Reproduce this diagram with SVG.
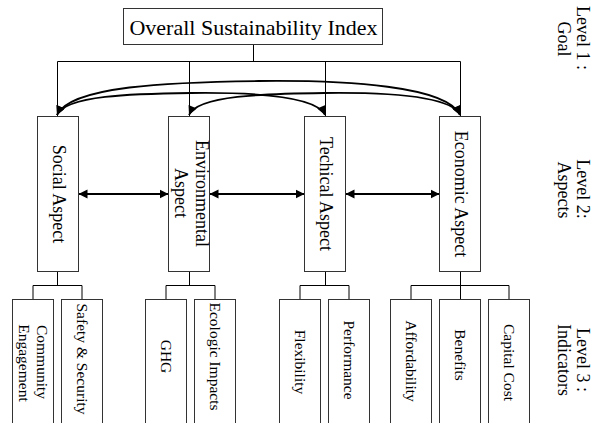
<svg xmlns="http://www.w3.org/2000/svg" width="595" height="423" viewBox="0 0 595 423">
<style>
.box{fill:#fff;stroke:#333;stroke-width:1}
.t{font-family:"Liberation Serif","Times New Roman",serif;fill:#000;text-anchor:middle}
.asp{font-size:18px}
.ind{font-size:15.5px}
.lvl{font-size:18px}
.tree{fill:none;stroke:#000;stroke-width:1}
.link{fill:none;stroke:#000;stroke-width:1.8}
</style>
<defs>
<marker id="ah" viewBox="0 0 10 10" refX="10" refY="5" markerWidth="9" markerHeight="10" markerUnits="userSpaceOnUse" orient="auto-start-reverse"><path d="M0,0 L10,5 L0,10 z" fill="#000"/></marker>
<marker id="ahc" viewBox="0 0 10 10" refX="10" refY="5" markerWidth="13" markerHeight="9" markerUnits="userSpaceOnUse" orient="auto-start-reverse"><path d="M0,0 L10,5 L0,10 z" fill="#000"/></marker>
</defs>

<g id="connectors">
<path class="tree" d="M253.5,44.5 V61.5 M57.5,61.5 H460.5 M57.5,61.5 V116 M189.5,61.5 V116 M325.5,61.5 V116 M460.5,61.5 V116"/>
<path class="link" marker-start="url(#ahc)" marker-end="url(#ahc)" d="M57,115 C70,86 170,82 258.5,81 S447,86 460,115"/>
<path class="link" marker-start="url(#ahc)" marker-end="url(#ahc)" d="M57,115 C65.7,95.5 132,93.7 191,93 S316.3,95.5 325,115"/>
<path class="link" marker-start="url(#ahc)" marker-end="url(#ahc)" d="M189,115 C197.7,95.5 264,93.7 324.5,93 S451.3,95.5 460,115"/>
<path class="link" marker-start="url(#ah)" marker-end="url(#ah)" d="M78.5,194 H168.5"/>
<path class="link" marker-start="url(#ah)" marker-end="url(#ah)" d="M209.5,194 H304.5"/>
<path class="link" marker-start="url(#ah)" marker-end="url(#ah)" d="M345.5,194 H439.5"/>
<path class="tree" d="M57.5,271.5 V285.5 M33,285.5 H82 M33,285.5 V299.5 M82,285.5 V299.5"/>
<path class="tree" d="M189.5,271.5 V285.5 M166,285.5 H215 M166,285.5 V299.5 M215,285.5 V299.5"/>
<path class="tree" d="M325.5,271.5 V285.5 M300,285.5 H349 M300,285.5 V299.5 M349,285.5 V299.5"/>
<path class="tree" d="M460.5,271.5 V285.5 M411,285.5 H509 M411,285.5 V299.5 M460.5,285.5 V299.5 M509,285.5 V299.5"/>
</g>

<g id="goal">
<rect class="box" x="123.5" y="8.5" width="259" height="36"/>
<text class="t" x="253.5" y="35" font-size="22">Overall Sustainability Index</text>
</g>

<g id="social">
<rect class="box" x="37.5" y="116.5" width="41" height="155"/>
<text class="t asp" transform="translate(53,194) rotate(90)">Social Aspect</text>
</g>
<g id="environmental">
<rect class="box" x="168.5" y="116.5" width="41" height="155"/>
<text class="t asp" transform="translate(195.5,193.5) rotate(90)">Environmental</text>
<text class="t asp" transform="translate(174.5,193) rotate(90)">Aspect</text>
</g>
<g id="technical">
<rect class="box" x="304.5" y="116.5" width="41" height="155"/>
<text class="t asp" transform="translate(320,194) rotate(90)">Techical Aspect</text>
</g>
<g id="economic">
<rect class="box" x="439.5" y="116.5" width="41" height="155"/>
<text class="t asp" transform="translate(454.5,194) rotate(90)">Economic Aspect</text>
</g>

<g id="community">
<rect class="box" x="12.5" y="299.5" width="41" height="130"/>
<text class="t ind" transform="translate(37,362) rotate(90)">Community</text>
<text class="t ind" transform="translate(18.5,363) rotate(90)">Engagement</text>
</g>
<g id="safety">
<rect class="box" x="61.5" y="299.5" width="41" height="130"/>
<text class="t ind" transform="translate(76.5,359) rotate(90)">Safety &amp; Security</text>
</g>
<g id="ghg">
<rect class="box" x="145.5" y="299.5" width="41" height="130"/>
<text class="t ind" transform="translate(160.5,356.5) rotate(90)">GHG</text>
</g>
<g id="ecologic">
<rect class="box" x="194.5" y="299.5" width="41" height="130"/>
<text class="t ind" transform="translate(209.5,356.5) rotate(90)">Ecologic Impacts</text>
</g>
<g id="flexibility">
<rect class="box" x="279.5" y="299.5" width="41" height="130"/>
<text class="t ind" transform="translate(294.5,362) rotate(90)">Flexibility</text>
</g>
<g id="performance">
<rect class="box" x="328.5" y="299.5" width="41" height="130"/>
<text class="t ind" transform="translate(343.5,360) rotate(90)">Performance</text>
</g>
<g id="affordability">
<rect class="box" x="390.5" y="299.5" width="41" height="130"/>
<text class="t ind" transform="translate(405.5,361) rotate(90)">Affordability</text>
</g>
<g id="benefits">
<rect class="box" x="439.5" y="299.5" width="41" height="130"/>
<text class="t ind" transform="translate(454.5,355) rotate(90)">Benefits</text>
</g>
<g id="capital">
<rect class="box" x="488.5" y="299.5" width="41" height="130"/>
<text class="t ind" transform="translate(503.5,362.5) rotate(90)">Capital Cost</text>
</g>

<g id="levels">
<text class="t lvl" transform="translate(577,38) rotate(90)">Level 1 :</text>
<text class="t lvl" transform="translate(558,39) rotate(90)">Goal</text>
<text class="t lvl" transform="translate(577,189) rotate(90)">Level 2:</text>
<text class="t lvl" transform="translate(558,190) rotate(90)">Aspects</text>
<text class="t lvl" transform="translate(577,360) rotate(90)">Level 3 :</text>
<text class="t lvl" transform="translate(558,360) rotate(90)">Indicators</text>
</g>
</svg>
